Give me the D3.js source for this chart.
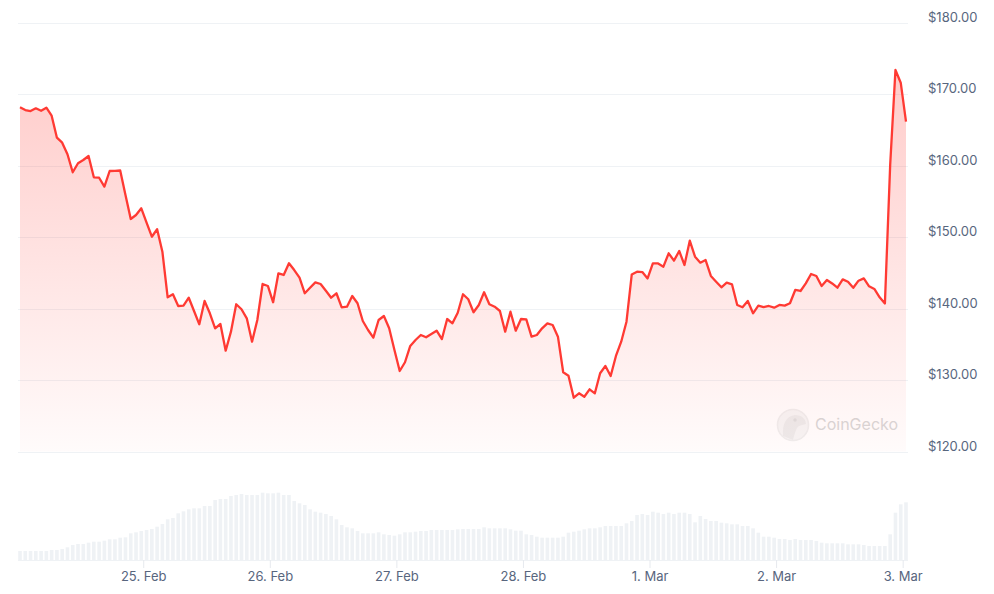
<!DOCTYPE html>
<html>
<head>
<meta charset="utf-8">
<script src="https://cdn.jsdelivr.net/npm/d3@7"></script>
<style>
  html, body { margin: 0; padding: 0; background: #fff; }
  svg { display: block; font-family: Inter, "Noto Sans", sans-serif; }
</style>
</head>
<body>
<svg id="chart" width="994" height="594"></svg>
<script>
// ---------- DATA ----------
const startTime = Date.UTC(2025, 1, 24, 0, 38); // first hourly sample
const prices = [
  168.14,167.76,167.62,168.00,167.66,168.08,166.97,163.89,163.19,161.57,
  159.05,160.31,160.77,161.33,158.35,158.29,157.04,159.23,159.25,159.30,
  155.87,152.52,153.08,154.01,152.00,150.04,151.08,147.94,141.57,141.99,
  140.35,140.39,141.51,139.65,137.79,141.05,139.33,137.23,137.83,134.10,
  136.76,140.59,139.89,138.63,135.36,138.39,143.43,143.15,140.87,144.92,
  144.69,146.32,145.38,144.31,142.13,142.91,143.66,143.43,142.49,141.51,
  142.13,140.17,140.25,141.75,140.73,138.25,136.99,135.92,138.39,138.95,
  137.23,134.20,131.26,132.48,134.76,135.59,136.29,135.97,136.43,136.90,
  135.73,138.53,137.93,139.41,141.99,141.29,139.47,140.49,142.27,140.59,
  140.25,139.65,136.76,139.55,136.90,138.53,138.49,136.06,136.29,137.23,
  137.93,137.69,136.06,131.08,130.60,127.52,128.14,127.66,128.70,128.14,
  130.94,131.96,130.56,133.36,135.36,138.15,144.76,145.15,145.10,144.20,
  146.32,146.30,145.85,147.72,146.69,148.04,146.08,149.48,147.24,146.41,
  146.78,144.55,143.75,142.97,143.61,143.38,140.49,140.17,141.05,139.33,
  140.39,140.20,140.35,140.11,140.50,140.40,140.73,142.59,142.45,143.52,
  144.83,144.55,143.15,143.99,143.50,142.91,144.08,143.75,142.90,143.89,
  144.22,143.10,142.73,141.57,140.70,160.07,173.36,171.58,166.13
];
// hourly trading volume (USD millions)
const volumes = [
  90,90,90,90,90,90,100,100,110,127,
  150,160,160,173,183,183,193,207,207,223,
  227,267,277,290,300,310,333,360,407,420,
  467,487,507,517,517,540,540,600,610,610,
  640,650,660,650,650,650,673,667,667,673,
  650,650,590,567,550,507,483,473,460,440,
  407,350,327,317,290,267,267,267,277,257,
  250,243,257,277,277,283,290,290,300,300,
  300,300,300,307,310,310,310,310,327,317,
  317,317,317,307,293,293,257,250,233,223,
  223,223,223,233,273,283,293,307,317,317,
  327,340,340,340,340,367,390,450,460,450,
  483,473,460,473,460,473,473,460,377,440,
  410,390,390,373,367,357,357,340,340,317,
  273,233,233,223,210,210,200,210,200,200,
  200,190,173,167,167,167,167,157,157,157,
  150,140,140,140,140,257,473,557,577
];
const priceTicks = [120, 130, 140, 150, 160, 170, 180];
const dayTicks = [
  Date.UTC(2025,1,25), Date.UTC(2025,1,26), Date.UTC(2025,1,27), Date.UTC(2025,1,28),
  Date.UTC(2025,2,1), Date.UTC(2025,2,2), Date.UTC(2025,2,3)
];
const dayTickLabels = ["25. Feb", "26. Feb", "27. Feb", "28. Feb", "1. Mar", "2. Mar", "3. Mar"];

// ---------- CHART ----------
const svg = d3.select("#chart");
const times = prices.map((_, i) => new Date(startTime + i * 3600e3));
const rows = prices.map((p, i) => ({ t: times[i], p, v: volumes[i] }));

const x = d3.scaleUtc().domain([times[0], times[times.length - 1]]).range([20, 906]);
const y = d3.scaleLinear().domain([120, 180]).range([451.5, 22.5]);
const yv = d3.scaleLinear().domain([0, 800]).range([560, 480]);

const gridColor = "#eff2f5";
const textColor = "#58667e";
const red = "#ff3a33";

// gradient
const defs = svg.append("defs");
const grad = defs.append("linearGradient").attr("id", "areaGrad")
  .attr("gradientUnits", "userSpaceOnUse")
  .attr("x1", 0).attr("x2", 0).attr("y1", y(173)).attr("y2", y(120));
grad.append("stop").attr("offset", 0).attr("stop-color", red).attr("stop-opacity", 0.26);
grad.append("stop").attr("offset", 1).attr("stop-color", red).attr("stop-opacity", 0.02);

// price gridlines + labels
const yAxis = d3.axisRight(y).tickValues(priceTicks)
  .tickSize(0).tickFormat(d => "$" + d3.format(".2f")(d));
const gy = svg.append("g").attr("transform", "translate(928,0)").call(yAxis);
gy.select(".domain").remove();
gy.selectAll("text").attr("x", 0).attr("dy", "-0.08em")
  .attr("fill", textColor).style("font-size", "13px").style("font-family", "Inter, sans-serif");

svg.append("g").selectAll("line").data(priceTicks).join("line")
  .attr("x1", 18).attr("x2", 908)
  .attr("y1", d => Math.round(y(d)) + 0.5).attr("y2", d => Math.round(y(d)) + 0.5)
  .attr("stroke", gridColor).attr("stroke-width", 1);

// watermark
const wm = svg.append("g").attr("opacity", 0.55);
wm.append("circle").attr("cx", 793).attr("cy", 425).attr("r", 15.5)
  .attr("fill", "#f0f0f0").attr("stroke", "#e2e2e2").attr("stroke-width", 1.5);
wm.append("path").attr("d", "M783,436 C782,424 786,416 795,415 C802,415 806,419 806,424 C803,425 799,425 797,428 C795,432 794,436 793,440 Z")
  .attr("fill", "#dedede");
wm.append("circle").attr("cx", 795).attr("cy", 420).attr("r", 1.8).attr("fill", "#c4c4c4");
wm.append("text").attr("x", 815).attr("y", 430).text("CoinGecko")
  .attr("fill", "#b9b9b9").style("font-size", "16px").style("font-family", "Inter, sans-serif");

// area + line
const area = d3.area().x(d => x(d.t)).y0(y(120)).y1(d => y(d.p));
const line = d3.line().x(d => x(d.t)).y(d => y(d.p));
svg.append("path").datum(rows).attr("d", area).attr("fill", "url(#areaGrad)");
svg.append("path").datum(rows).attr("d", line).attr("fill", "none")
  .attr("stroke", red).attr("stroke-width", 2.3).attr("stroke-linejoin", "round");

// volume bars
svg.append("g").selectAll("rect").data(rows).join("rect")
  .attr("x", d => x(d.t) - 1.8).attr("width", 3.6)
  .attr("y", d => yv(d.v)).attr("height", d => yv(0) - yv(d.v))
  .attr("fill", "#eff2f5");

// x axis
const xAxis = d3.axisBottom(x).tickValues(dayTicks.map(d => new Date(d)))
  .tickSize(8).tickFormat((d, i) => dayTickLabels[i]);
const gx = svg.append("g").attr("transform", "translate(0,560)").call(xAxis);
gx.select(".domain").attr("d", "M18,0.5H908").attr("stroke", gridColor);
gx.selectAll(".tick line").attr("stroke", "#e6e9ee");
gx.selectAll("text").attr("y", 12).attr("fill", textColor)
  .style("font-size", "13px").style("font-family", "Inter, sans-serif");
</script>
</body>
</html>
